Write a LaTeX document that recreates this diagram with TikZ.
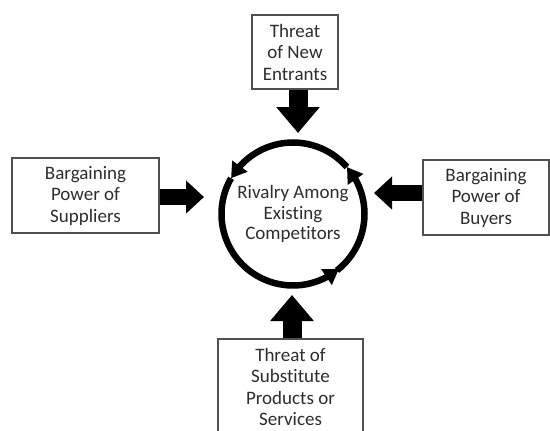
\documentclass[tikz,border=0pt]{standalone}
\usepackage{fontspec}
\setmainfont{Carlito}[Ligatures=NoCommon]
\usetikzlibrary{arrows.meta,bending}
\definecolor{boxtext}{RGB}{45,45,45}
\definecolor{boxline}{RGB}{80,80,80}
\begin{document}
\begin{tikzpicture}[x=1pt,y=1pt,
  forcebox/.style={draw=boxline, line width=1.2pt, rectangle, align=center,
    text=boxtext, font=\fontsize{19}{21.5}\selectfont, inner sep=0pt},
  bigarrow/.style={line width=19pt, line cap=butt, draw=black,
    -{Triangle[width=42pt,length=26pt]}},
  sidearrow/.style={line width=16pt, line cap=butt, draw=black,
    -{Triangle[width=32pt,length=18pt]}},
  ringarc/.style={line width=6.5pt, draw=black,
    -{Triangle[width=18pt,length=15pt]}}]
\clip (0,0) rectangle (550,-431);

% the five forces
\node[forcebox, minimum width=86pt, minimum height=74pt] (entrants) at (295,-52)
  {Threat\\of New\\Entrants};
\node[forcebox, minimum width=147pt, minimum height=75pt] (suppliers) at (85.5,-195.5)
  {Bargaining\\Power of\\Suppliers};
\node[forcebox, minimum width=126pt, minimum height=75pt] (buyers) at (486,-197.5)
  {Bargaining\\Power of\\Buyers};
\node[forcebox, minimum width=145pt, minimum height=100pt] (substitutes) at (290.5,-389)
  {\raisebox{3.5pt}{\begin{tabular}{@{}c@{}}Threat of\\Substitute\\Products or\\Services\end{tabular}}};

% central rivalry ring
\node[circle, minimum size=143pt, align=center, text=boxtext,
  font=\fontsize{19}{20.5}\selectfont] (rivalry) at (293,-214)
  {Rivalry Among\\Existing\\Competitors};
\draw[ringarc] ([shift={(-52:71.5)}]rivalry.center) arc[start angle=-52, end angle=41, radius=71.5];
\draw[ringarc] ([shift={(41:71.5)}]rivalry.center) arc[start angle=41, end angle=150, radius=71.5];
\draw[ringarc] ([shift={(150:71.5)}]rivalry.center) arc[start angle=150, end angle=310, radius=71.5];

% pressure arrows toward the ring
\coordinate (ntip) at (298,-133);
\coordinate (stip) at (292,-295);
\coordinate (wtip) at (204,-197);
\coordinate (etip) at (374,-193);
\draw[bigarrow] (entrants.south -| ntip) -- (ntip);
\draw[bigarrow] (substitutes.north -| stip) -- (stip);
\draw[sidearrow] (suppliers.east |- wtip) -- (wtip);
\draw[sidearrow] (buyers.west |- etip) -- (etip);
\end{tikzpicture}
\end{document}
